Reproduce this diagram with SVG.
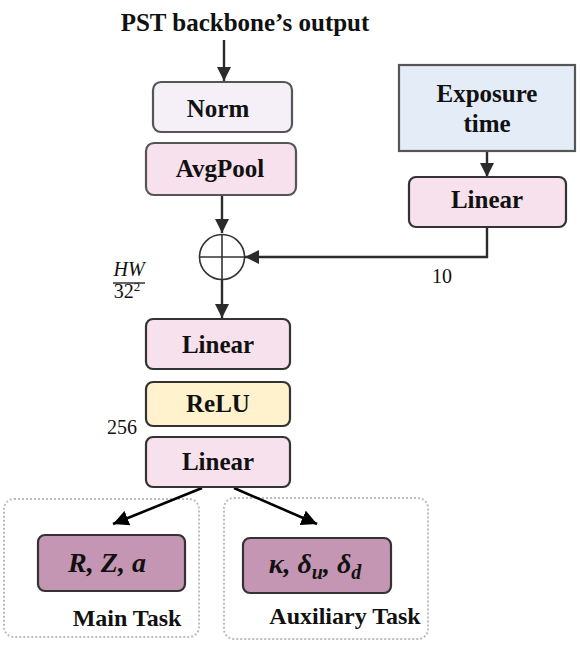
<svg xmlns="http://www.w3.org/2000/svg" width="581" height="650" viewBox="0 0 581 650">
<defs>
<marker id="ah" viewBox="0 0 10 10" refX="10" refY="5" markerWidth="6" markerHeight="6" markerUnits="strokeWidth" orient="auto">
<path d="M0,0 L10,5 L0,10 Z" fill="#2b2b2b"/>
</marker>
<marker id="ahb" viewBox="0 0 10 10" refX="10" refY="5" markerWidth="6" markerHeight="6" markerUnits="strokeWidth" orient="auto">
<path d="M0,0 L10,5 L0,10 Z" fill="#000"/>
</marker>
<style>
.lbl{font-family:"Liberation Serif","Times New Roman",serif;font-weight:bold;font-size:25px;fill:#111;text-anchor:middle}
.box{stroke:#333;stroke-width:2.2}
.gbox{stroke:#555;stroke-width:2.2}
.ln{stroke:#2b2b2b;stroke-width:2.4;fill:none}
.math{font-family:"Liberation Serif","Times New Roman",serif;font-weight:bold;font-style:italic;font-size:28px;fill:#111;text-anchor:middle}
.num{font-family:"Liberation Serif","Times New Roman",serif;font-size:20px;fill:#111}
.dot{fill:none;stroke:#bdbdbd;stroke-width:2;stroke-dasharray:2 2}
.task{font-family:"Liberation Serif","Times New Roman",serif;font-weight:bold;font-size:24px;fill:#111;text-anchor:middle}
</style>
</defs>
<rect width="581" height="650" fill="#fff"/>
<text x="245" y="31" class="lbl" font-size="22">PST backbone’s output</text>

<g id="groups">
<rect class="dot" x="4" y="499" width="195" height="138" rx="10"/>
<rect class="dot" x="224" y="498" width="204" height="141" rx="10"/>
</g>

<g id="connectors">
<line class="ln" x1="224" y1="40" x2="224" y2="81" marker-end="url(#ah)"/>
<line class="ln" x1="222" y1="195" x2="222" y2="233" marker-end="url(#ah)"/>
<line class="ln" x1="487" y1="151" x2="487" y2="177" marker-end="url(#ah)"/>
<polyline class="ln" points="487,227 487,257 245,257" marker-end="url(#ah)"/>
<line class="ln" x1="222" y1="280" x2="222" y2="318" marker-end="url(#ah)"/>
<line stroke="#000" stroke-width="2.6" x1="202" y1="488" x2="113" y2="524" marker-end="url(#ahb)"/>
<line stroke="#000" stroke-width="2.6" x1="234" y1="488" x2="317" y2="524" marker-end="url(#ahb)"/>
</g>

<g id="norm">
<rect class="gbox" x="153" y="82" width="139" height="50" rx="8" fill="#f5f0f8"/>
<text x="218" y="117" class="lbl">Norm</text>
</g>
<g id="avgpool">
<rect class="gbox" x="146" y="143" width="150" height="52" rx="8" fill="#f7e1ec"/>
<text x="220" y="177" class="lbl">AvgPool</text>
</g>
<g id="exposure">
<rect class="gbox" x="399" y="65" width="176" height="86" fill="#e4ecf8"/>
<text x="487" y="102" class="lbl">Exposure</text>
<text x="487" y="132" class="lbl">time</text>
</g>
<g id="linear-exp">
<rect class="box" x="409" y="177" width="157" height="50" rx="7" fill="#f7e1ec"/>
<text x="487" y="208" class="lbl">Linear</text>
</g>
<g id="add">
<circle cx="222" cy="257" r="22.5" fill="#fff" stroke="#333" stroke-width="1.6"/>
<line x1="199.5" y1="257" x2="244.5" y2="257" stroke="#333" stroke-width="1.6"/>
<line x1="222" y1="234.5" x2="222" y2="279.5" stroke="#333" stroke-width="1.6"/>
</g>
<g id="linear1">
<rect class="box" x="146" y="319" width="144" height="50" rx="7" fill="#f7e1ec"/>
<text x="218" y="353" class="lbl">Linear</text>
</g>
<g id="relu">
<rect class="box" x="146" y="382" width="144" height="44" rx="7" fill="#fff2cc"/>
<text x="218" y="412" class="lbl">ReLU</text>
</g>
<g id="linear2">
<rect class="box" x="146" y="437" width="144" height="50" rx="7" fill="#f7e1ec"/>
<text x="218" y="470" class="lbl">Linear</text>
</g>
<g id="main">
<rect class="box" x="38" y="535" width="147" height="56" rx="7" fill="#c596b3"/>
<text x="107" y="572" class="math">R, Z, a</text>
<text x="127" y="626" class="task">Main Task</text>
</g>
<g id="aux">
<rect class="box" x="243" y="538" width="148" height="55" rx="7" fill="#c596b3"/>
<text x="315" y="573" class="math">κ, δ<tspan font-size="20" dy="6">u</tspan><tspan dy="-6">, δ</tspan><tspan font-size="20" dy="6">d</tspan></text>
<text x="345" y="624" class="task">Auxiliary Task</text>
</g>

<g id="annotations">
<text x="432" y="283" class="num">10</text>
<text x="107" y="434" class="num">256</text>
<text x="129" y="276" class="num" font-style="italic" font-size="18" text-anchor="middle">HW</text>
<line x1="113" y1="283" x2="145" y2="283" stroke="#111" stroke-width="1.3"/>
<text x="127" y="298" class="num" font-size="18" text-anchor="middle">32<tspan font-size="13" dy="-7">2</tspan></text>
</g>
</svg>
